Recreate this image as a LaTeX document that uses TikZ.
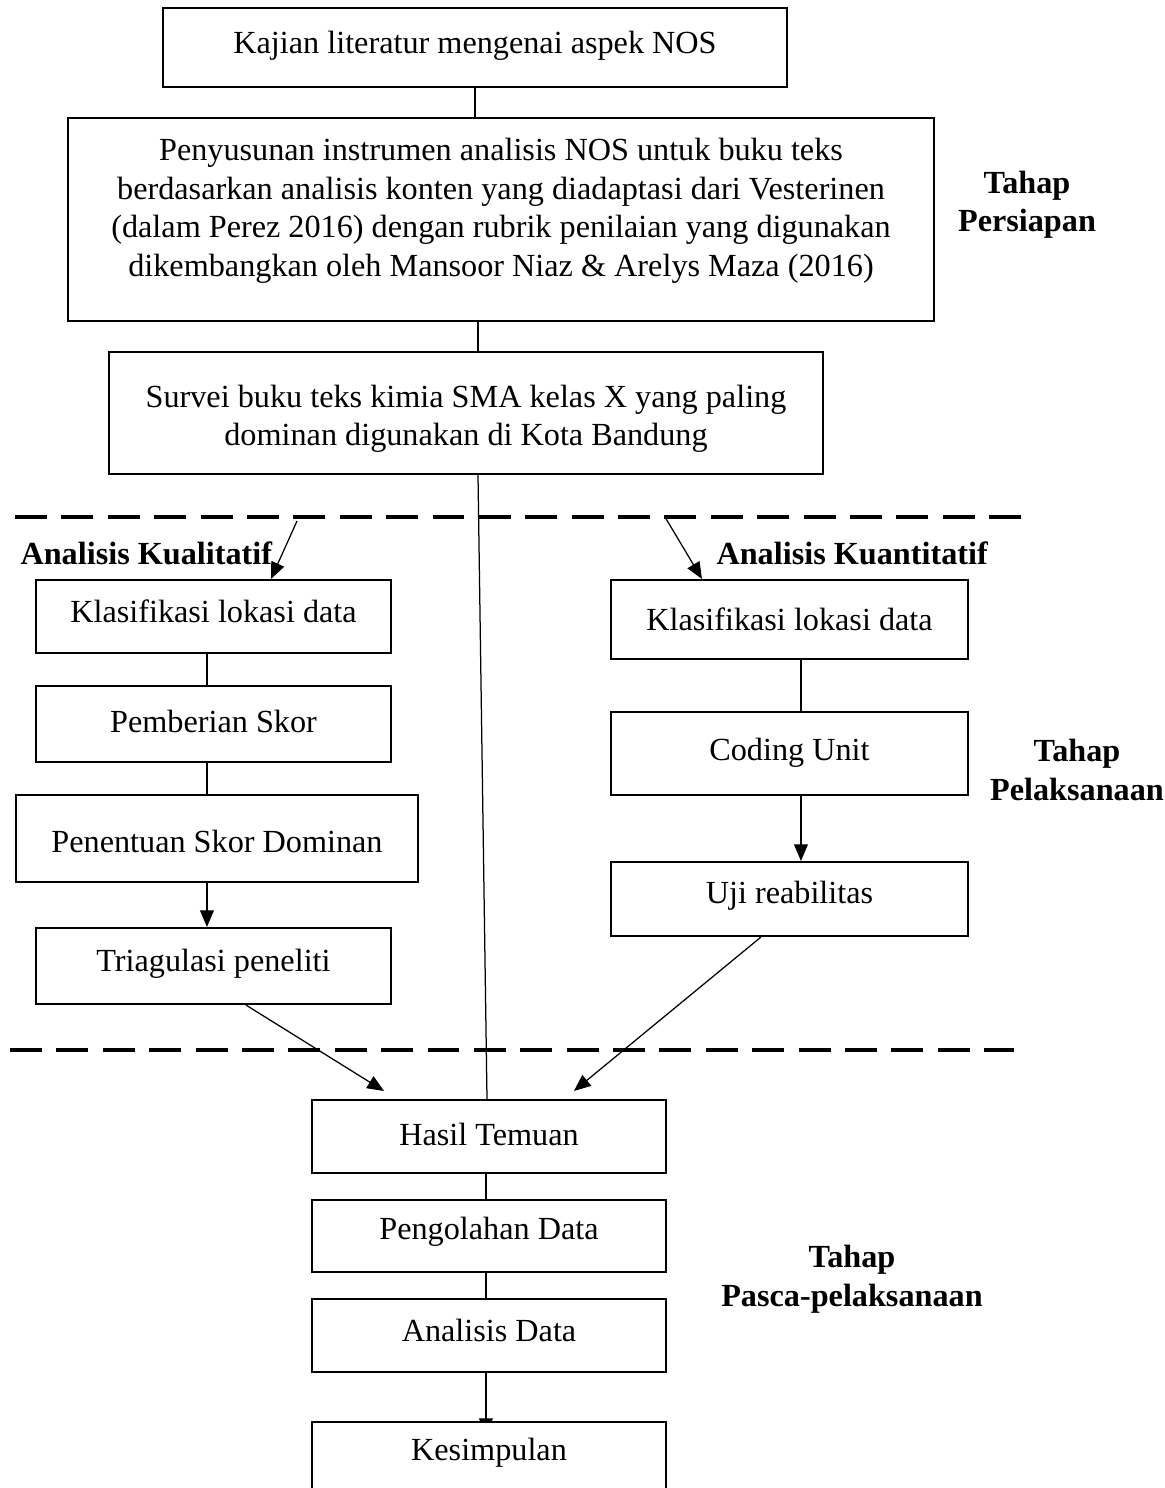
\documentclass[tikz,border=0pt]{standalone}
\usepackage{fontspec}
\setmainfont{Liberation Serif}
\usetikzlibrary{arrows.meta,fit,calc,backgrounds}
\tikzset{
  box/.style={draw, fill=white, line width=0.75pt, inner sep=0pt},
  txt/.style={align=center, inner sep=0pt, font=\fontsize{11.6}{13.85}\selectfont},
  conn/.style={line width=0.45pt},
  arr/.style={line width=0.45pt, -{Triangle[length=6pt,width=5pt]}},
  sep/.style={line width=1.6pt, dash pattern=on 11.5pt off 5.2pt},
  lbl/.style={font=\fontsize{11.6}{13.85}\selectfont\bfseries, align=center, inner sep=0pt}
}
% \bx{name}{x1}{y1}{x2}{y2}{text y}{text}
\newcommand{\bx}[7]{%
  \node[box, fit={(#2,#3)(#4,#5)}] (#1) {};
  \node[txt] (#1t) at ({(#2+#4)/2},#6) {#7};
}
\begin{document}
\begin{tikzpicture}[x=0.36pt,y=-0.36pt]
\useasboundingbox (0,0) rectangle (1164,1488);
% top boxes
\bx{b1}{163}{8}{787}{87}{46}{Kajian literatur mengenai aspek NOS}
\bx{b2}{68}{118}{934}{321}{211}{Penyusunan instrumen analisis NOS untuk buku teks\\berdasarkan analisis konten yang diadaptasi dari Vesterinen\\(dalam Perez 2016) dengan rubrik penilaian yang digunakan\\dikembangkan oleh Mansoor Niaz \& Arelys Maza (2016)}
\bx{b3}{109}{352}{823}{474}{419}{Survei buku teks kimia SMA kelas X yang paling\\dominan digunakan di Kota Bandung}
% left column
\bx{k1}{36}{580}{391}{653}{611}{Klasifikasi lokasi data}
\bx{k2}{36}{686}{391}{762}{721}{Pemberian Skor}
\bx{k3}{16}{795}{418}{882}{841}{Penentuan Skor Dominan}
\bx{k4}{36}{928}{391}{1004}{964}{Triagulasi peneliti}
% right column
\bx{r1}{611}{580}{968}{659}{619}{Klasifikasi lokasi data}
\bx{r2}{611}{712}{968}{795}{753}{Coding Unit}
\bx{r3}{611}{862}{968}{936}{896}{Uji reabilitas}
% bottom
\bx{h}{312}{1100}{666}{1173}{1134}{Hasil Temuan}
\bx{p}{312}{1200}{666}{1272}{1232}{Pengolahan Data}
\bx{a}{312}{1299}{666}{1372}{1330}{Analisis Data}
\bx{ks}{312}{1422}{666}{1520}{1453}{Kesimpulan}
% labels
\node[lbl] (t1) at (1027,205) {Tahap\\Persiapan};
\node[lbl] (t2) at (1077,770) {Tahap\\Pelaksanaan};
\node[lbl] (t3) at (852,1279) {Tahap\\Pasca-pelaksanaan};
\node[lbl, anchor=west] (ql) at (20,553) {Analisis Kualitatif};
\node[lbl, anchor=west] (qn) at (716,553) {Analisis Kuantitatif};
% separators
\coordinate (s1a) at (15,517); \coordinate (s1b) at (1022,517);
\coordinate (s2a) at (10,1050); \coordinate (s2b) at (1014,1050);
\draw[sep] (s1a) -- (s1b);
\draw[sep] (s2a) -- (s2b);
% connectors
\draw[conn] (b1.south) -- (b1.south |- b2.north);
\draw[conn] ($(b2.south)+(-23,0)$) -- ($(b3.north)+(12,0)$);
\draw[conn] ($(b3.south)+(12,0)$) -- ($(h.north)+(-2,0)$);
\coordinate (qa) at (297,521);
\coordinate (na) at (665,517);
\draw[arr] (qa) -- ($(k1.north west)+(236,0)$);
\draw[arr] (na) -- ($(r1.north west)+(92,0)$);
\draw[conn] ($(k1.south west)+(172,0)$) -- ($(k2.north west)+(172,0)$);
\draw[conn] ($(k2.south west)+(172,0)$) -- ($(k3.north west)+(192,0)$);
\draw[arr] ($(k3.south west)+(192,0)$) -- ($(k4.north west)+(172,0)$);
\draw[conn] ($(r1.south west)+(191,0)$) -- ($(r2.north west)+(191,0)$);
\draw[arr] ($(r2.south west)+(191,0)$) -- ($(r3.north west)+(191,0)$);
\draw[arr] ($(k4.south west)+(211,0)$) -- ($(h.north west)+(73,-8)$);
\draw[arr] ($(r3.south west)+(151,0)$) -- ($(h.north west)+(263,-8)$);
\draw[conn] ($(h.south west)+(175,0)$) -- ($(p.north west)+(175,0)$);
\draw[conn] ($(p.south west)+(175,0)$) -- ($(a.north west)+(175,0)$);
\begin{scope}[on background layer]
\draw[arr] ($(a.south west)+(175,0)$) -- ($(ks.north west)+(175,14)$);
\end{scope}
\end{tikzpicture}
\end{document}
